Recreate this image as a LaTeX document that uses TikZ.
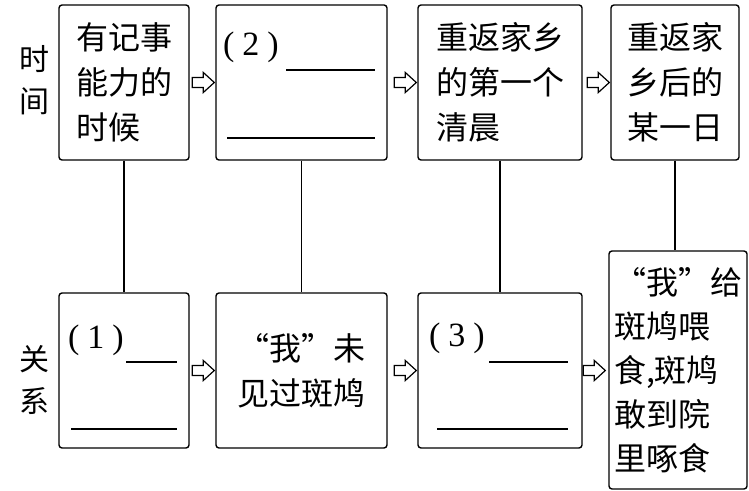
\documentclass[tikz,border=0pt]{standalone}
\usepackage{fontspec}
\newfontfamily\cjk{Noto Sans CJK SC}
\newfontfamily\numfont{Liberation Serif}
\usetikzlibrary{positioning}
\usetikzlibrary{math}
\tikzset{
	box/.style={draw, line width=0.7pt, rounded corners=1.5pt, inner sep=0pt, align=left, font=\cjk\fontsize{16}{22.5}\selectfont},
	blockarrow/.pic={\draw[line width=0.6pt, line join=miter] (-11pt,-2.5pt) -- (-5.5pt,-2.5pt) -- (-5.5pt,-5pt) -- (0pt,0pt) -- (-5.5pt,5pt) -- (-5.5pt,2.5pt) -- (-11pt,2.5pt) -- cycle;},
	blank/.style={line width=0.6pt},
	rowlabel/.style={font=\cjk\fontsize{15}{21}\selectfont, align=center},
	tag/.style={font=\numfont\fontsize{17}{17}\selectfont, inner sep=0pt},
}

\begin{document}
\begin{tikzpicture}[x=0.5pt,y=-0.5pt]
	\tikzmath{\ty=82.5; \by=370.5;
	\ax=124; \bx=301.5; \cx=500; \dx=675; \hx=678;
	}
	\useasboundingbox (0,0) rectangle (749,491);
	% row labels
	\node[rowlabel] (time) at (34,80) {时\\间};
	\node[rowlabel] (rel) at (34,380) {关\\系};
	% time row
	\node[box, minimum width=65pt, minimum height=77.5pt] (A) at (\ax,\ty) {有记事\\能力的\\时候};
	\node[box, minimum width=85.5pt, minimum height=77.5pt] (B) at (\bx,\ty) {};
	\node[box, minimum width=82pt, minimum height=77.5pt] (C) at (\cx,\ty) {重返家乡\\的第一个\\清晨};
	\node[box, minimum width=64pt, minimum height=77.5pt] (D) at (\dx,\ty) {重返家\\乡后的\\某一日};
	% relation row
	\node[box, minimum width=65pt, minimum height=77.5pt] (E) at (\ax,\by) {};
	\node[box, minimum width=85.5pt, minimum height=77.5pt] (F) at (\bx,\by) {“我”未\\见过斑鸠};
	\node[box, minimum width=82pt, minimum height=77.5pt] (G) at (\cx,\by) {};
	\node[box, minimum width=69pt, minimum height=119pt, font=\cjk\fontsize{16}{22}\selectfont] (H) at (\hx,370) {“我”给\\斑鸠喂\\食,斑鸠\\敢到院\\里啄食};
	% blanks
	\node[tag] (q2) at (251,47) {(\hspace{4pt}2\hspace{4pt})};
	\node[tag] (q1) at (96,340) {(\hspace{4pt}1\hspace{4pt})};
	\node[tag] (q3) at (457,338) {(\hspace{4pt}3\hspace{4pt})};
	\draw[blank] (286,70) -- (375,70);
	\draw[blank] (227,138) -- (375,138);
	\draw[blank] (126,362) -- (177,362);
	\draw[blank] (71,429) -- (177,429);
	\draw[blank] (489,362) -- (568,362);
	\draw[blank] (437,429) -- (568,429);
	% arrows
	\pic at ([xshift=-0.5pt]B.west) {blockarrow};
	\pic at ([xshift=-0.5pt]C.west) {blockarrow};
	\pic at ([xshift=-0.5pt]D.west) {blockarrow};
	\pic at ([xshift=-0.5pt]F.west) {blockarrow};
	\pic at ([xshift=-0.5pt]G.west) {blockarrow};
	\pic at ([xshift=-1.5pt]H.west|-G.west) {blockarrow};
	% links
	\draw[line width=0.6pt] (A) -- (E);
	\draw[line width=0.6pt] (B) -- (F);
	\draw[line width=0.6pt] (C) -- (G);
	\draw[line width=0.6pt] (D.south) -- (D.south|-H.north);
\end{tikzpicture}
\end{document}
